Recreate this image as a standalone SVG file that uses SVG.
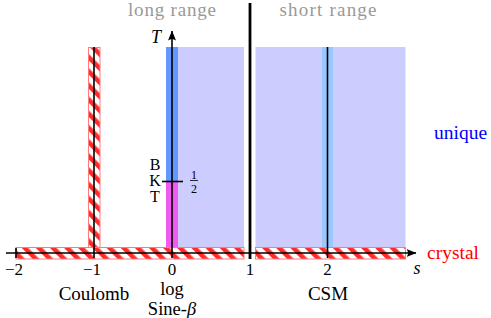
<svg xmlns="http://www.w3.org/2000/svg" width="491" height="318" viewBox="0 0 491 318">
<defs>
<pattern id="hatch" patternUnits="userSpaceOnUse" width="10" height="10" patternTransform="rotate(-45)">
<rect width="10" height="10" fill="#fff"/>
<rect width="4.6" height="10" fill="#ff2b2b"/>
</pattern>
<marker id="arr" viewBox="0 0 10 8" refX="9.5" refY="4" markerWidth="10" markerHeight="8" markerUnits="userSpaceOnUse" orient="auto">
<path d="M10,4 L0,0 Q3,4 0,8 Z" fill="#000"/>
</marker>
</defs>
<style>
text{font-family:"Liberation Serif","DejaVu Serif",serif;fill:#000}
.lbl{font-size:19px;text-anchor:middle}
.tick{font-size:17px;text-anchor:middle}
.gray{fill:#999;font-size:19px;text-anchor:middle}
.it{font-style:italic}
.hat{fill:url(#hatch);stroke:#ff7a7a;stroke-width:1}
.ln{stroke:#000;stroke-width:1.6;fill:none}
</style>

<g id="regions">
<rect x="178" y="47" width="66" height="201" fill="#ccccff"/>
<rect x="255.5" y="47" width="150" height="201" fill="#ccccff"/>
<rect x="166" y="47" width="12" height="134.5" fill="#6496ff"/>
<rect x="166" y="181.5" width="12" height="66.5" fill="#f05af0"/>
<rect x="322" y="47" width="11" height="201" fill="#99c8ff"/>
</g>

<g id="crystal-strips">
<rect class="hat" x="88.5" y="47.5" width="11.5" height="200.5"/>
<rect class="hat" x="16" y="247.5" width="228" height="11.5"/>
<rect class="hat" x="255.5" y="247.5" width="150" height="11.5"/>
</g>

<g id="connectors">
<line class="ln" x1="6" y1="253" x2="416" y2="253" marker-end="url(#arr)"/>
<line class="ln" x1="172" y1="258" x2="172" y2="31" marker-end="url(#arr)"/>
<line class="ln" x1="16" y1="248" x2="16" y2="258"/>
<line class="ln" x1="94" y1="47" x2="94" y2="258"/>
<line class="ln" x1="327.5" y1="47" x2="327.5" y2="258"/>
<line x1="250" y1="3" x2="250" y2="259" stroke="#000" stroke-width="2.8"/>
<line class="ln" x1="162" y1="181.5" x2="183" y2="181.5"/>
</g>

<g id="labels-top">
<text class="gray" x="172" y="16" textLength="88">long range</text>
<text class="gray" x="328" y="16" textLength="97">short range</text>
</g>

<g id="axis-labels">
<text class="tick it" x="156" y="43" style="font-size:18px">T</text>
<text class="tick it" x="417" y="274" style="font-size:18px">s</text>
<text class="tick" x="14" y="275">−2</text>
<text class="tick" x="92" y="275">−1</text>
<text class="tick" x="172" y="275">0</text>
<text class="tick" x="250" y="275">1</text>
<text class="tick" x="327.5" y="275">2</text>
</g>

<g id="node-bkt">
<text class="tick" x="155" y="169.5" style="font-size:16px">B</text>
<text class="tick" x="155" y="186" style="font-size:16px">K</text>
<text class="tick" x="155" y="202" style="font-size:16px">T</text>
<text class="tick" x="194" y="178.5" style="font-size:12px">1</text>
<line x1="190" y1="180.5" x2="198" y2="180.5" stroke="#000" stroke-width="0.8"/>
<text class="tick" x="194" y="192.5" style="font-size:12px">2</text>
</g>

<g id="node-coulomb"><text class="lbl" x="94" y="300">Coulomb</text></g>
<g id="node-log"><text class="lbl" x="172" y="294.5" style="font-size:18.5px">log</text>
<text class="lbl" x="172" y="314.5" style="font-size:18.5px">Sine-<tspan class="it">β</tspan></text></g>
<g id="node-csm"><text class="lbl" x="328" y="299.5">CSM</text></g>
<g id="node-unique"><text x="434" y="139" style="font-size:19.5px;fill:#0000ff">unique</text></g>
<g id="node-crystal"><text x="427" y="259" style="font-size:19.5px;fill:#ff0000">crystal</text></g>
</svg>
